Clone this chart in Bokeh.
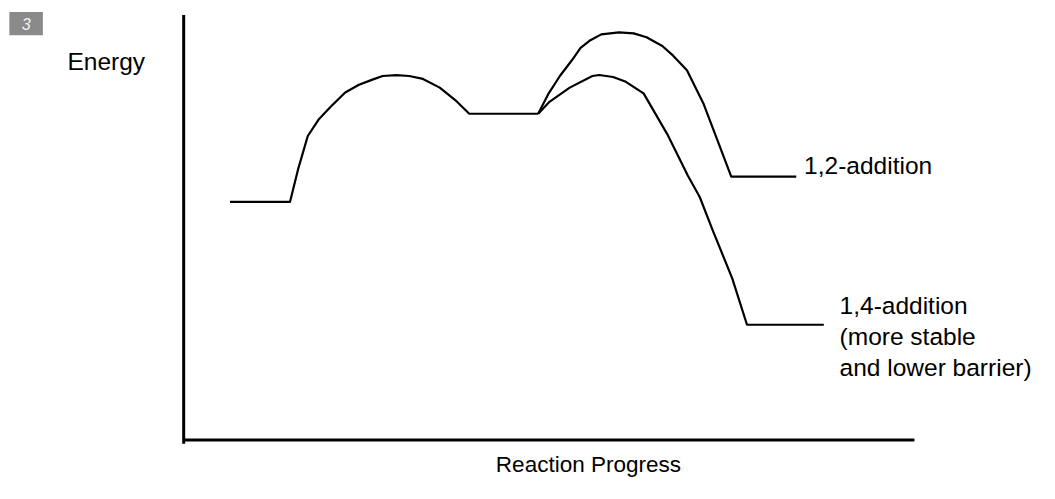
from bokeh.plotting import figure
from bokeh.models import Range1d
from bokeh.core.properties import value
from bokeh.embed import file_html
from bokeh.resources import INLINE

# Reaction progress (units from the energy axis) and energy (units above the progress axis)
common_x = [47, 108, 116, 126, 137, 149, 164, 178, 191, 202, 216, 229, 243, 260, 277, 290, 360]
common_e = [246, 246, 279, 314, 331, 344, 359, 367, 372, 376, 377, 376, 373, 364, 350, 337, 337]

add12_x = [360, 370, 382, 394, 403, 413, 424, 442, 457, 470, 486, 497, 511, 528, 543, 556, 622]
add12_e = [337, 357, 376, 392, 405, 413, 419, 421, 420, 416, 407, 397, 382, 347, 307, 272, 272]

add14_x = [360, 371, 392, 415, 422, 436, 449, 467, 491, 512, 524, 537, 557, 572, 650]
add14_e = [337, 349, 364, 376, 377, 375, 370, 358, 316, 273, 251, 217, 167, 119, 119]

axis_v_x = [0, 0]
axis_v_e = [-4, 439]
axis_h_x = [0, 742]
axis_h_e = [0, 0]

label_text = ["Energy", "1,2-addition", "1,4-addition", "(more stable", "and lower barrier)"]
label_x = [-118, 630, 666, 666, 666]
label_e = [391, 284, 139, 107, 75]

xlabel_text = ["Reaction Progress"]
xlabel_x = [317]
xlabel_e = [-25]

badge_text = ["3"]
badge_x = [-160]
badge_e = [430]

W, H = 1039, 483
p = figure(width=W, height=H, output_backend="svg", toolbar_location=None,
           x_axis_type=None, y_axis_type=None, min_border=0,
           x_range=Range1d(-186, 869), y_range=Range1d(-45, 454))
p.grid.visible = False
p.outline_line_color = None
p.background_fill_color = "white"
p.border_fill_color = "white"

# badge
p.rect(x=badge_x, y=badge_e, width=34, height=24, fill_color="#8a8a8a", line_color=None)
p.text(x=badge_x, y=badge_e, text=badge_text, text_color="#f4f4f4",
       text_font=value("Liberation Sans"), text_font_size="16px", text_font_style="italic",
       text_align="center", text_baseline="middle")

# axes
p.line(axis_v_x, axis_v_e, line_color="black", line_width=3)
p.line(axis_h_x, axis_h_e, line_color="black", line_width=3)

# curves
for xs, es in [(common_x, common_e), (add12_x, add12_e), (add14_x, add14_e)]:
    p.line(xs, es, line_color="black", line_width=2.2, line_join="round")

FONT = "Liberation Sans"
p.text(x=label_x, y=label_e, text=label_text, text_color="black",
       text_font=value(FONT), text_font_size="24.5px",
       text_align="left", text_baseline="middle")
p.text(x=xlabel_x, y=xlabel_e, text=xlabel_text, text_color="black",
       text_font=value(FONT), text_font_size="22.5px",
       text_align="left", text_baseline="middle")

open("out.html", "w").write(file_html(p, INLINE))
